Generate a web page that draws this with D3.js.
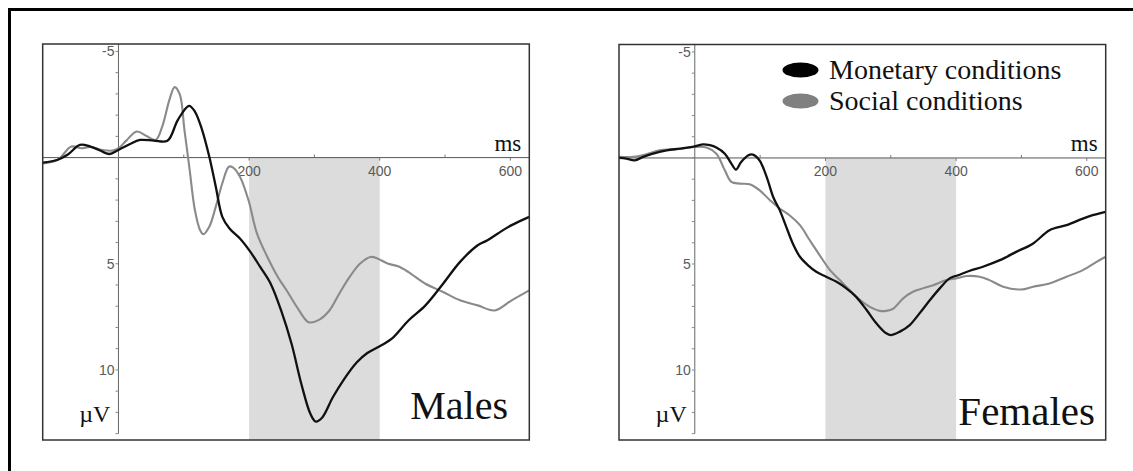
<!DOCTYPE html>
<html>
<head>
<meta charset="utf-8">
<script src="https://cdn.jsdelivr.net/npm/d3@7"></script>
<style>
  html, body { margin: 0; padding: 0; background: #fff; }
  svg { display: block; }
</style>
</head>
<body>
<svg id="chart" width="1133" height="471"></svg>
<script>
// ---------- DATA (ms, µV; negative up) ----------
const panels = ["Males", "Females"];
const seriesNames = ["Monetary conditions", "Social conditions"];
const xTickLabels = [200, 400, 600];
const yTickLabels = [-5, 5, 10];
const shadedWindow = [200, 400];

const malesMonetary = [
  [-116,0.24],[-93,0.1],[-78,-0.13],[-59,-0.6],[-43,-0.52],[-30,-0.36],[-14,-0.17],[0,-0.36],
  [17,-0.63],[33,-0.83],[54,-0.8],[75,-0.79],[91,-1.78],[108,-2.44],[117,-2.17],[128,-1.31],
  [139,-0.05],[149,1.37],[159,2.79],[170,3.34],[186,3.81],[202,4.44],[217,5.15],[233,5.94],
  [249,7.2],[265,8.77],[280,10.66],[294,12.08],[302,12.43],[312,12.24],[328,11.3],[344,10.5],
  [365,9.64],[381,9.2],[397,8.93],[418,8.54],[444,7.67],[470,6.96],[497,5.94],[523,4.91],
  [550,4.13],[565,3.89],[581,3.57],[602,3.18],[629,2.79]
];
const malesSocial = [
  [-116,0.27],[-93,0.1],[-72,-0.52],[-57,-0.44],[-43,-0.5],[-25,-0.36],[-9,-0.33],[0,-0.44],
  [12,-0.8],[28,-1.23],[43,-1.02],[57,-0.83],[67,-1.46],[78,-2.72],[86,-3.32],[94,-2.96],
  [101,-1.31],[109,0.58],[117,2.47],[125,3.42],[130,3.61],[139,3.26],[149,2.31],[159,1.21],
  [169,0.43],[175,0.46],[186,0.9],[199,2.0],[212,3.57],[228,4.68],[244,5.62],[259,6.33],
  [275,7.12],[291,7.75],[307,7.64],[323,7.2],[338,6.41],[354,5.62],[370,4.99],[386,4.68],
  [397,4.76],[412,4.99],[428,5.12],[444,5.39],[470,5.94],[497,6.33],[523,6.72],[550,6.96],
  [576,7.2],[602,6.72],[629,6.25]
];
const femalesMonetary = [
  [-116,0.0],[-105,0.03],[-92,0.11],[-79,-0.05],[-64,-0.2],[-43,-0.36],[-23,-0.44],[0,-0.55],
  [13,-0.64],[23,-0.6],[33,-0.49],[46,-0.2],[56,0.27],[63,0.55],[71,0.19],[82,-0.13],
  [89,-0.16],[99,0.11],[110,0.89],[120,1.84],[130,2.46],[140,3.25],[150,4.03],[161,4.66],
  [173,5.05],[186,5.37],[201,5.6],[217,5.84],[232,6.15],[247,6.55],[263,7.17],[278,7.8],
  [293,8.27],[301,8.35],[314,8.19],[329,7.88],[344,7.33],[360,6.7],[375,6.15],[390,5.68],
  [403,5.53],[421,5.32],[441,5.13],[467,4.82],[492,4.43],[518,4.03],[543,3.41],[569,3.17],
  [594,2.86],[609,2.7],[629,2.54]
];
const femalesSocial = [
  [-116,-0.05],[-94,-0.05],[-74,-0.17],[-54,-0.36],[-28,-0.41],[0,-0.52],[18,-0.49],[33,-0.2],
  [46,0.58],[56,1.13],[69,1.21],[84,1.24],[99,1.52],[115,1.99],[130,2.39],[145,2.7],
  [161,3.17],[176,3.88],[191,4.58],[207,5.29],[222,5.76],[237,6.23],[253,6.7],[268,7.02],
  [283,7.21],[293,7.21],[304,7.1],[319,6.62],[334,6.31],[349,6.15],[365,6.0],[385,5.76],
  [400,5.68],[416,5.57],[436,5.6],[451,5.76],[472,6.07],[500,6.2],[518,6.07],[543,5.92],
  [569,5.6],[594,5.29],[615,4.9],[629,4.66]
];
const panelSeries = [[malesMonetary, malesSocial], [femalesMonetary, femalesSocial]];

// ---------- LAYOUT ----------
const svg = d3.select("#chart");
const colors = ["#111111", "#8a8a8a"];
const panelBoxes = [
  {x0: 42.7, x1: 529.3, y0: 44, y1: 440, labelX: 508, labelY: 419, labelSize: 40},
  {x0: 619, x1: 1105.7, y0: 44.5, y1: 440, labelX: 1095, labelY: 425, labelSize: 41}
];

// outer frame (extends past the visible area on right and bottom)
svg.append("rect").attr("x", 9.5).attr("y", 9.5).attr("width", 1200).attr("height", 600)
  .attr("fill", "none").attr("stroke", "#000").attr("stroke-width", 3);

panelBoxes.forEach((b, pi) => {
  const g = svg.append("g");
  const x = d3.scaleLinear().domain([-116, 629]).range([b.x0, b.x1]);
  const y = d3.scaleLinear().domain([-5.35, 13.3]).range([b.y0, b.y1]);

  // shaded window
  g.append("rect")
    .attr("x", x(shadedWindow[0])).attr("width", x(shadedWindow[1]) - x(shadedWindow[0]))
    .attr("y", y(0)).attr("height", b.y1 - y(0))
    .attr("fill", "#dcdcdc");

  // x axis (zero line)
  g.append("line").attr("x1", b.x0).attr("x2", b.x1).attr("y1", y(0)).attr("y2", y(0))
    .attr("stroke", "#555").attr("stroke-width", 1);
  // x ticks
  d3.range(100, 601, 100).forEach(t => {
    const major = xTickLabels.includes(t);
    g.append("line").attr("x1", x(t)).attr("x2", x(t))
      .attr("y1", y(0)).attr("y2", y(0) + (major ? 3 : -3))
      .attr("stroke", "#777").attr("stroke-width", 1);
  });
  xTickLabels.forEach(t => {
    g.append("text").attr("x", x(t)).attr("y", 176)
      .attr("text-anchor", "middle")
      .attr("font-family", "'Liberation Sans', Arial, sans-serif")
      .attr("font-size", 14).attr("fill", "#5a5a5a").text(t);
  });

  // y axis
  g.append("line").attr("x1", x(0)).attr("x2", x(0)).attr("y1", b.y0).attr("y2", y(13))
    .attr("stroke", "#666").attr("stroke-width", 1);
  d3.range(-5, 14, 1).forEach(t => {
    g.append("line").attr("x1", x(0) - 3).attr("x2", x(0)).attr("y1", y(t)).attr("y2", y(t))
      .attr("stroke", "#888").attr("stroke-width", 1);
  });
  yTickLabels.forEach(t => {
    g.append("text").attr("x", x(0) - 4).attr("y", y(t)).attr("dy", "0.36em")
      .attr("text-anchor", "end")
      .attr("font-family", "'Liberation Sans', Arial, sans-serif")
      .attr("font-size", 14).attr("fill", "#5a5a5a").text(t);
  });

  // units
  g.append("text").attr("x", b.x1 - 8).attr("y", 150.5).attr("text-anchor", "end")
    .attr("font-family", "'Liberation Serif', 'Times New Roman', serif")
    .attr("font-size", 23).attr("fill", "#111").text("ms");
  g.append("text").attr("x", x(0) - 8).attr("y", 422).attr("text-anchor", "end")
    .attr("font-family", "'Liberation Serif', 'Times New Roman', serif")
    .attr("font-size", 24).attr("fill", "#111").text("µV");

  // curves
  const line = d3.line().x(d => x(d[0])).y(d => y(d[1])).curve(d3.curveCatmullRom.alpha(0.5));
  const order = [1, 0];
  order.forEach(si => {
    g.append("path").datum(panelSeries[pi][si])
      .attr("d", line).attr("fill", "none")
      .attr("stroke", colors[si]).attr("stroke-width", si === 0 ? 2.3 : 2.1)
      .attr("stroke-linejoin", "round");
  });

  // panel label
  g.append("text").attr("x", b.labelX).attr("y", b.labelY).attr("text-anchor", "end")
    .attr("font-family", "'Liberation Serif', 'Times New Roman', serif")
    .attr("font-size", b.labelSize).attr("fill", "#111").text(panels[pi]);

  // panel border
  g.append("rect").attr("x", b.x0).attr("y", b.y0)
    .attr("width", b.x1 - b.x0).attr("height", b.y1 - b.y0)
    .attr("fill", "none").attr("stroke", "#333").attr("stroke-width", 1.5);

  // legend (right panel only)
  if (pi === 1) {
    const legY = [70, 101];
    seriesNames.forEach((name, si) => {
      g.append("ellipse").attr("cx", 800.5).attr("cy", legY[si])
        .attr("rx", 18).attr("ry", 7.5).attr("fill", si === 0 ? "#000" : "#808080");
      g.append("text").attr("x", 829).attr("y", legY[si] + 8.5)
        .attr("font-family", "'Liberation Serif', 'Times New Roman', serif")
        .attr("font-size", 28).attr("fill", "#111").text(name);
    });
  }
});
</script>
</body>
</html>
